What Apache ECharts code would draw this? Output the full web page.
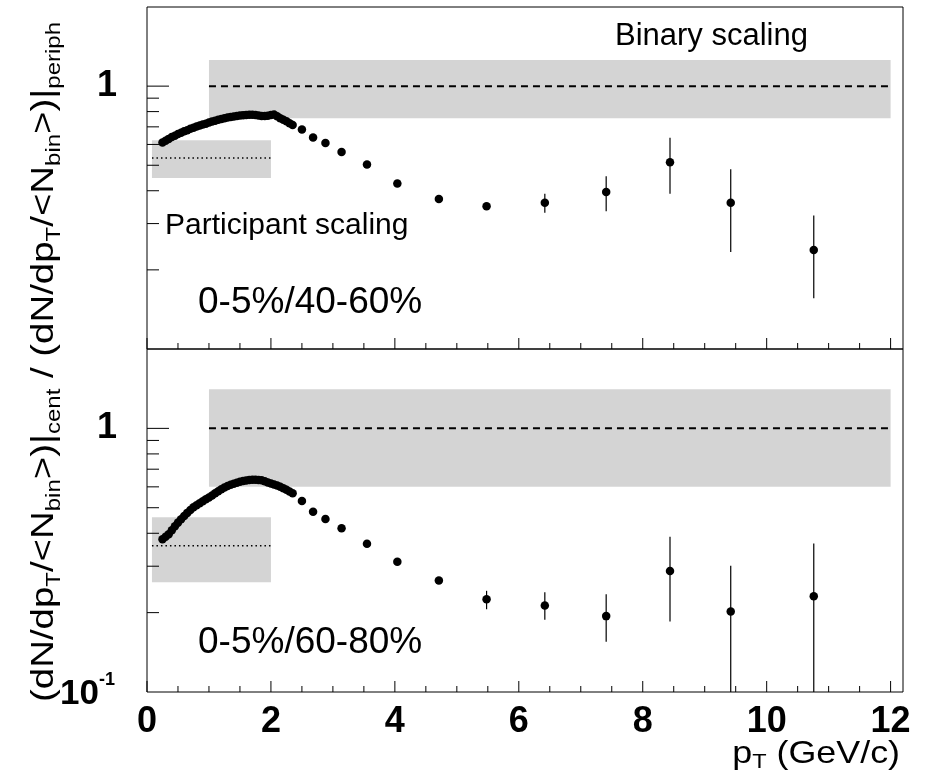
<!DOCTYPE html>
<html><head><meta charset="utf-8">
<script src="https://cdn.jsdelivr.net/npm/echarts@6/dist/echarts.min.js"></script>
<style>html,body{margin:0;padding:0;background:#fff}#c{width:930px;height:780px}</style>
</head><body><div id="c"></div>
<script>
// ---------------- data ----------------
const ptDense = [0.25,0.30,0.35,0.40,0.45,0.50,0.55,0.60,0.65,0.70,0.75,0.80,0.85,0.90,0.95,1.00,1.05,1.10,1.15,1.20,1.25,1.30,1.35,1.40,1.45,1.50,1.55,1.60,1.65,1.70,1.75,1.80,1.85,1.90,1.95,2.00,2.05,2.10,2.15,2.20,2.25,2.30,2.35];
const ratio40Dense = [0.610,0.620,0.630,0.640,0.648,0.657,0.665,0.673,0.680,0.688,0.695,0.702,0.708,0.714,0.720,0.727,0.733,0.739,0.745,0.750,0.755,0.759,0.763,0.767,0.770,0.773,0.775,0.777,0.778,0.778,0.776,0.773,0.770,0.770,0.772,0.776,0.780,0.768,0.755,0.745,0.735,0.723,0.712];
const ratio60Dense = [0.380,0.388,0.397,0.411,0.425,0.439,0.452,0.465,0.478,0.490,0.502,0.511,0.520,0.529,0.538,0.547,0.556,0.567,0.577,0.587,0.596,0.604,0.611,0.617,0.622,0.627,0.631,0.634,0.637,0.638,0.638,0.637,0.635,0.630,0.623,0.618,0.612,0.607,0.601,0.593,0.585,0.576,0.567];

const ptSparse = [2.5,2.68,2.88,3.14,3.55,4.04,4.71,5.48,6.42,7.41,8.44,9.42,10.76];
const ratio40Sparse = [0.684,0.637,0.608,0.562,0.503,0.426,0.372,0.349,0.360,0.396,0.513,0.360,0.238];
const err40Low  = [0.68,0.633,0.604,0.558,0.499,0.422,0.368,0.344,0.330,0.334,0.390,0.234,0.156];
const err40High = [0.688,0.641,0.612,0.566,0.507,0.430,0.376,0.354,0.390,0.454,0.636,0.483,0.322];
const ratio60Sparse = [0.530,0.483,0.453,0.418,0.365,0.312,0.265,0.225,0.213,0.194,0.288,0.202,0.231];
const err60Low  = [0.526,0.479,0.449,0.414,0.360,0.306,0.258,0.206,0.188,0.155,0.185,0.09,0.09];
const err60High = [0.534,0.487,0.457,0.422,0.370,0.318,0.272,0.242,0.239,0.235,0.388,0.301,0.366];

// bands: [x0, x1, yLow, yHigh]
const binaryBand40 = [1, 12, 0.755, 1.256];
const partBand40   = [0.08, 2, 0.447, 0.623];
const binaryBand60 = [1, 12, 0.60, 1.406];
const partBand60   = [0.08, 2, 0.261, 0.460];
// reference lines: [x0, x1, y]
const binaryLine = [1, 12, 1];
const partLine40 = [0.08, 2, 0.533];
const partLine60 = [0.08, 2, 0.359];

const xMajorTicks = [0,2,4,6,8,10,12];
const xMinorTicks = [0.5,1,1.5,2.5,3,3.5,4.5,5,5.5,6.5,7,7.5,8.5,9,9.5,10.5,11,11.5];
const yMajorTicks = [1];
const yMinorTicks = [0.2,0.3,0.4,0.5,0.6,0.7,0.8,0.9];
const yLabelsUpper = [1];
const yLabelsLower = [1, 0.1];

const X_MIN = 0, X_MAX = 12.2, Y_MIN = 0.1, Y_MAX = 2;
const FONT = '"Liberation Sans", Arial, Helvetica, sans-serif';

// ---------------- helpers ----------------
function bandSeries(gi, bands) {
  return { type: 'custom', xAxisIndex: gi, yAxisIndex: gi, silent: true, z: 1, clip: true,
    encode: { x: [0, 1], y: [2, 3] },
    data: bands,
    renderItem: (p, api) => {
      const a = api.coord([api.value(0), api.value(3)]);
      const b = api.coord([api.value(1), api.value(2)]);
      return { type: 'rect', shape: { x: a[0], y: a[1], width: b[0] - a[0], height: b[1] - a[1] },
        style: { fill: '#d4d4d4' } };
    } };
}
function refLineSeries(gi, lines, dash, width) {
  return { type: 'custom', xAxisIndex: gi, yAxisIndex: gi, silent: true, z: 2, clip: true,
    encode: { x: [0, 1], y: 2 },
    data: lines,
    renderItem: (p, api) => {
      const a = api.coord([api.value(0), api.value(2)]);
      const b = api.coord([api.value(1), api.value(2)]);
      return { type: 'line', shape: { x1: a[0], y1: a[1], x2: b[0], y2: b[1] },
        style: { stroke: '#000', lineWidth: width, lineDash: dash } };
    } };
}
function errSeries(gi, xs, lo, hi) {
  return { type: 'custom', xAxisIndex: gi, yAxisIndex: gi, silent: true, z: 3, clip: true,
    encode: { x: 0, y: [1, 2] },
    data: xs.map((x, i) => [x, lo[i], hi[i]]),
    renderItem: (p, api) => {
      const a = api.coord([api.value(0), api.value(1)]);
      const b = api.coord([api.value(0), api.value(2)]);
      return { type: 'line', shape: { x1: a[0], y1: a[1], x2: b[0], y2: b[1] },
        style: { stroke: '#000', lineWidth: 1.2 } };
    } };
}
function pointSeries(gi, xd, yd, xs, ys) {
  return { type: 'scatter', xAxisIndex: gi, yAxisIndex: gi, silent: true, z: 4,
    symbol: 'circle', symbolSize: 8.5, itemStyle: { color: '#000', opacity: 1 },
    data: xd.map((x, i) => [x, yd[i]]).concat(xs.map((x, i) => [x, ys[i]])) };
}
function tickSeries(gi, values, dir, len) {
  return { type: 'custom', xAxisIndex: gi, yAxisIndex: gi, silent: true, z: 6, clip: false,
    encode: { x: 0, y: 1 },
    data: values.map(v => dir === 'x' ? [v, Y_MIN] : [X_MIN, v]),
    renderItem: (p, api) => {
      const c = api.coord([api.value(0), api.value(1)]);
      const shape = dir === 'x'
        ? { x1: c[0], y1: c[1], x2: c[0], y2: c[1] - len }
        : { x1: c[0], y1: c[1], x2: c[0] + len, y2: c[1] };
      return { type: 'line', shape, style: { stroke: '#000', lineWidth: 1 } };
    } };
}
function yLabelSeries(gi, values) {
  return { type: 'custom', xAxisIndex: gi, yAxisIndex: gi, silent: true, z: 6, clip: false,
    encode: { x: 0, y: 1 },
    data: values.map(v => [X_MIN, v]),
    renderItem: (p, api) => {
      const v = api.value(1);
      const c = api.coord([api.value(0), v]);
      const isOne = Math.abs(v - 1) < 1e-9;
      return { type: 'text', x: c[0] - (isOne ? 30 : 32), y: c[1] + (isOne ? 0 : 2),
        style: { text: isOne ? '1' : '{b|10}{s|-1}', fill: '#000',
          font: 'bold 36px ' + FONT, align: 'right', verticalAlign: 'middle',
          rich: { b: { fontSize: 35, fontWeight: 'bold', fontFamily: FONT, lineHeight: 46, verticalAlign: 'middle' },
                  s: { fontSize: 18, fontWeight: 'bold', fontFamily: FONT, lineHeight: 18, verticalAlign: 'top' } } } };
    } };
}
function xAxisCfg(gi, showLabel) {
  return { type: 'value', gridIndex: gi, min: X_MIN, max: X_MAX, interval: 2,
    axisLine: { show: false }, axisTick: { show: false }, splitLine: { show: false },
    axisLabel: { show: showLabel, margin: 12, color: '#000', fontSize: 36, fontWeight: 'bold', fontFamily: FONT,
      showMaxLabel: true,
      formatter: v => (Math.abs(v - Math.round(v)) < 1e-9 && Math.round(v) % 2 === 0 && v <= 12) ? String(Math.round(v)) : '' } };
}
function yAxisCfg(gi) {
  return { type: 'log', logBase: 10, gridIndex: gi, min: Y_MIN, max: Y_MAX,
    axisLine: { show: false }, axisTick: { show: false }, splitLine: { show: false }, axisLabel: { show: false } };
}

const chart = echarts.init(document.getElementById('c'), null, { renderer: 'canvas' });
chart.setOption({
  animation: false,
  backgroundColor: '#fff',
  grid: [
    { left: 147, top: 7, width: 756, height: 342, show: true, borderColor: '#000', borderWidth: 1, backgroundColor: 'transparent' },
    { left: 147, top: 349, width: 756, height: 343, show: true, borderColor: '#000', borderWidth: 1, backgroundColor: 'transparent' }
  ],
  xAxis: [xAxisCfg(0, false), xAxisCfg(1, true)],
  yAxis: [yAxisCfg(0), yAxisCfg(1)],
  series: [
    bandSeries(0, [binaryBand40, partBand40]),
    refLineSeries(0, [binaryLine], [7, 5], 2),
    refLineSeries(0, [partLine40], [1.5, 3], 1.5),
    errSeries(0, ptSparse, err40Low, err40High),
    pointSeries(0, ptDense, ratio40Dense, ptSparse, ratio40Sparse),
    tickSeries(0, xMajorTicks, 'x', 11),
    tickSeries(0, xMinorTicks, 'x', 6),
    tickSeries(0, yMajorTicks, 'y', 22),
    tickSeries(0, yMinorTicks, 'y', 12),
    yLabelSeries(0, yLabelsUpper),

    bandSeries(1, [binaryBand60, partBand60]),
    refLineSeries(1, [binaryLine], [7, 5], 2),
    refLineSeries(1, [partLine60], [1.5, 3], 1.5),
    errSeries(1, ptSparse, err60Low, err60High),
    pointSeries(1, ptDense, ratio60Dense, ptSparse, ratio60Sparse),
    tickSeries(1, xMajorTicks, 'x', 11),
    tickSeries(1, xMinorTicks, 'x', 6),
    tickSeries(1, yMajorTicks, 'y', 22),
    tickSeries(1, yMinorTicks, 'y', 12),
    yLabelSeries(1, yLabelsLower)
  ],
  graphic: [
    { type: 'text', x: 615, y: 36, z: 10, silent: true,
      style: { text: 'Binary scaling', font: '31px ' + FONT, fill: '#000', align: 'left', verticalAlign: 'middle' } },
    { type: 'text', x: 165, y: 226, z: 10, silent: true,
      style: { text: 'Participant scaling', font: '30px ' + FONT, fill: '#000', align: 'left', verticalAlign: 'middle' } },
    { type: 'text', x: 198, y: 303, z: 10, silent: true,
      style: { text: '0-5%/40-60%', font: '37px ' + FONT, fill: '#000', align: 'left', verticalAlign: 'middle' } },
    { type: 'text', x: 198, y: 643, z: 10, silent: true,
      style: { text: '0-5%/60-80%', font: '37px ' + FONT, fill: '#000', align: 'left', verticalAlign: 'middle' } },
    { type: 'text', x: 900, y: 754, z: 10, silent: true, scaleX: 1.12,
      style: { text: 'p{sub|T} (GeV/c)', font: '32px ' + FONT, fill: '#000', align: 'right', verticalAlign: 'middle', lineHeight: 38,
        rich: { sub: { fontSize: 21, fontFamily: FONT, lineHeight: 16, verticalAlign: 'bottom' } } } },
    { type: 'text', x: 44, y: 362, z: 10, silent: true, rotation: Math.PI / 2, scaleX: 1.2,
      style: { text: '(dN/dp{sub|T}/<N{sub|bin}>)|{sub|cent} / (dN/dp{sub|T}/<N{sub|bin}>)|{sub|periph}',
        font: '32px ' + FONT, fill: '#000', align: 'center', verticalAlign: 'middle', lineHeight: 40,
        rich: { sub: { fontSize: 20, fontFamily: FONT, lineHeight: 18, verticalAlign: 'bottom' } } } }
  ]
});
</script>
</body></html>
